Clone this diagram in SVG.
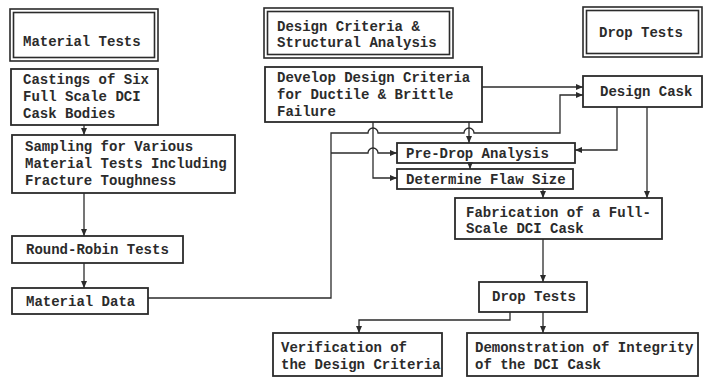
<svg xmlns="http://www.w3.org/2000/svg" width="705" height="377" viewBox="0 0 705 377">
<defs>
<style>
.box{fill:none;stroke:#2b2b2b;stroke-width:1.8}
.hdr{fill:none;stroke:#2b2b2b;stroke-width:1.6}
.t{font-family:"Liberation Mono","DejaVu Sans Mono",monospace;font-size:14px;font-weight:bold;fill:#2b2b2b}
.c{fill:none;stroke:#2b2b2b;stroke-width:1.3}
</style>
<marker id="ah" markerWidth="7" markerHeight="6" refX="7" refY="3" orient="auto" markerUnits="userSpaceOnUse">
<path d="M0,0 L7,3 L0,6 z" fill="#2b2b2b"/>
</marker>
</defs>
<rect width="705" height="377" fill="#ffffff"/>

<g id="hdr-material">
<rect class="hdr" x="10" y="9" width="148" height="52"/>
<rect class="hdr" x="13.5" y="12.5" width="141" height="45"/>
<text class="t" x="23" y="46">Material Tests</text>
</g>
<g id="hdr-design">
<rect class="hdr" x="264" y="8" width="189" height="50"/>
<rect class="hdr" x="267.5" y="11.5" width="182" height="43"/>
<text class="t" x="277" y="31">Design Criteria &amp;</text>
<text class="t" x="277" y="47">Structural Analysis</text>
</g>
<g id="hdr-drop">
<rect class="hdr" x="583" y="7" width="119" height="50"/>
<rect class="hdr" x="586.5" y="10.5" width="112" height="43"/>
<text class="t" x="599" y="37">Drop Tests</text>
</g>

<g id="castings">
<rect class="box" x="11" y="69" width="147" height="56"/>
<text class="t" x="23" y="84">Castings of Six</text>
<text class="t" x="23" y="101">Full Scale DCI</text>
<text class="t" x="23" y="118">Cask Bodies</text>
</g>
<g id="sampling">
<rect class="box" x="12" y="135" width="223" height="58"/>
<text class="t" x="25" y="151">Sampling for Various</text>
<text class="t" x="25" y="168">Material Tests Including</text>
<text class="t" x="25" y="185">Fracture Toughness</text>
</g>
<g id="roundrobin">
<rect class="box" x="12" y="236" width="171" height="27"/>
<text class="t" x="26" y="254">Round-Robin Tests</text>
</g>
<g id="materialdata">
<rect class="box" x="12" y="288" width="136" height="26"/>
<text class="t" x="26" y="306">Material Data</text>
</g>
<g id="develop">
<rect class="box" x="265" y="67" width="217" height="55"/>
<text class="t" x="277" y="82">Develop Design Criteria</text>
<text class="t" x="277" y="99">for Ductile &amp; Brittle</text>
<text class="t" x="277" y="116">Failure</text>
</g>
<g id="designcask">
<rect class="box" x="583" y="76" width="119" height="31"/>
<text class="t" x="600" y="96">Design Cask</text>
</g>
<g id="predrop">
<rect class="box" x="397" y="143" width="178" height="20"/>
<text class="t" x="406" y="158">Pre-Drop Analysis</text>
</g>
<g id="flaw">
<rect class="box" x="397" y="169" width="176" height="20"/>
<text class="t" x="406" y="184">Determine Flaw Size</text>
</g>
<g id="fabrication">
<rect class="box" x="455" y="198" width="207" height="41"/>
<text class="t" x="466" y="217">Fabrication of a Full-</text>
<text class="t" x="466" y="233">Scale DCI Cask</text>
</g>
<g id="droptests">
<rect class="box" x="479" y="282" width="108" height="30"/>
<text class="t" x="492" y="301">Drop Tests</text>
</g>
<g id="verification">
<rect class="box" x="273" y="333" width="169" height="43"/>
<text class="t" x="281" y="352">Verification of</text>
<text class="t" x="281" y="369">the Design Criteria</text>
</g>
<g id="demonstration">
<rect class="box" x="467" y="333" width="231" height="43"/>
<text class="t" x="475" y="352">Demonstration of Integrity</text>
<text class="t" x="475" y="369">of the DCI Cask</text>
</g>

<g id="connectors">
<path class="c" d="M84 125 V135" marker-end="url(#ah)"/>
<path class="c" d="M84 193 V236" marker-end="url(#ah)"/>
<path class="c" d="M84 263 V288" marker-end="url(#ah)"/>
<path class="c" d="M148 298 H331 V133 H368 A5 5 0 0 1 378 133 H464 A5 5 0 0 1 474 133 H560 V95 H583" marker-end="url(#ah)"/>
<path class="c" d="M331 153 H368 A5 5 0 0 1 378 153 H397" marker-end="url(#ah)"/>
<path class="c" d="M482 87 H583" marker-end="url(#ah)"/>
<path class="c" d="M373 122 V178 H397" marker-end="url(#ah)"/>
<path class="c" d="M469 122 V143" marker-end="url(#ah)"/>
<path class="c" d="M617 107 V150 H575" marker-end="url(#ah)"/>
<path class="c" d="M647 107 V198" marker-end="url(#ah)"/>
<path class="c" d="M470 163 V169" marker-end="url(#ah)"/>
<path class="c" d="M543 189 V198" marker-end="url(#ah)"/>
<path class="c" d="M543 239 V282" marker-end="url(#ah)"/>
<path class="c" d="M543 312 V333" marker-end="url(#ah)"/>
<path class="c" d="M510 312 V320 H359 V333" marker-end="url(#ah)"/>
</g>
</svg>
